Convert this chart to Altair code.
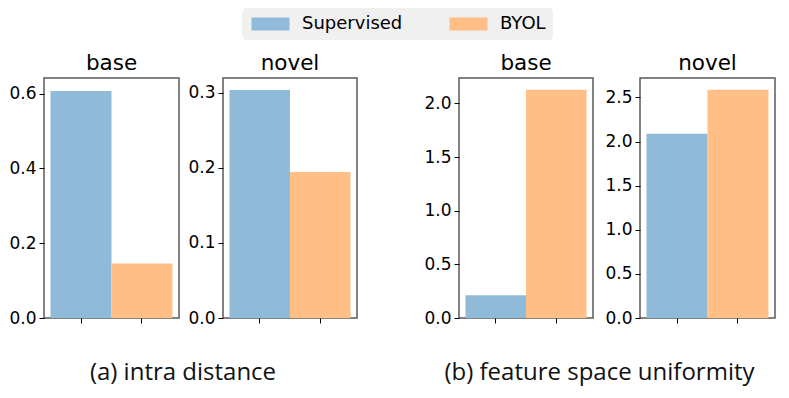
import altair as alt
import pandas as pd

methods = ["Supervised", "BYOL"]
panel_titles = ["base", "novel", "base", "novel"]
supervised = [0.607, 0.3035, 0.213, 2.089]
byol = [0.146, 0.1944, 2.127, 2.586]
y_max = [0.642, 0.3195, 2.237, 2.72]
y_ticks = [
    [0.0, 0.2, 0.4, 0.6],
    [0.0, 0.1, 0.2, 0.3],
    [0.0, 0.5, 1.0, 1.5, 2.0],
    [0.0, 0.5, 1.0, 1.5, 2.0, 2.5],
]
captions = ["(a) intra distance", "(b) feature space uniformity"]
colors = ["#8fbbd9", "#ffbf86"]
panel_w = [135, 134, 134, 135]


def panel(i):
    df = pd.DataFrame({"method": methods, "value": [supervised[i], byol[i]]})
    return (
        alt.Chart(df)
        .mark_bar()
        .encode(
            x=alt.X(
                "method:N",
                sort=methods,
                scale=alt.Scale(paddingInner=0, paddingOuter=0.107),
                axis=alt.Axis(labels=False, title=None, domain=False, ticks=True,
                              tickSize=5, tickColor="black"),
            ),
            y=alt.Y(
                "value:Q",
                scale=alt.Scale(domain=[0, y_max[i]], nice=False, zero=True),
                axis=alt.Axis(values=y_ticks[i], format=".1f", title=None, domain=False,
                              grid=False, tickSize=5, tickColor="black", labelPadding=3,
                              labelFontSize=17, labelFont="DejaVu Sans", labelColor="black"),
            ),
            color=alt.Color(
                "method:N",
                sort=methods,
                scale=alt.Scale(domain=methods, range=colors),
                legend=alt.Legend(
                    title=None, orient="none", legendX=198, legendY=-70,
                    direction="horizontal", fillColor="#f0f0f0", cornerRadius=4,
                    padding=7, symbolType="M-1,-1L4.846,-1L4.846,1L-1,1Z",
                    symbolSize=169, symbolStrokeWidth=0, symbolOpacity=1,
                    labelFont="DejaVu Sans", labelFontSize=18, labelOffset=35,
                    columnPadding=44, labelColor="black",
                ),
            ),
        )
        .properties(
            width=panel_w[i], height=240,
            title=alt.TitleParams(panel_titles[i], font="DejaVu Sans", fontSize=21.5,
                                  fontWeight="normal", anchor="middle", frame="group",
                                  offset=4, color="black"),
        )
    )


def caption(text):
    return alt.TitleParams(text, orient="bottom", anchor="middle", frame="bounds",
                           font="Open Sans", fontSize=24, fontWeight="normal", offset=34,
                           color="#111111")


pair_a = alt.hconcat(panel(0), panel(1), spacing=7).properties(title=caption(captions[0]))
pair_b = alt.hconcat(panel(2), panel(3), spacing=10).properties(title=caption(captions[1]))

chart = (
    alt.hconcat(pair_a, pair_b, spacing=65)
    .properties(padding={"left": 0, "top": 0, "right": 0, "bottom": 3}, background="white")
    .configure_view(stroke="#5a5a5a", strokeWidth=1.5)
)

chart.save("out.html", embed_options={"renderer": "svg", "actions": False})
